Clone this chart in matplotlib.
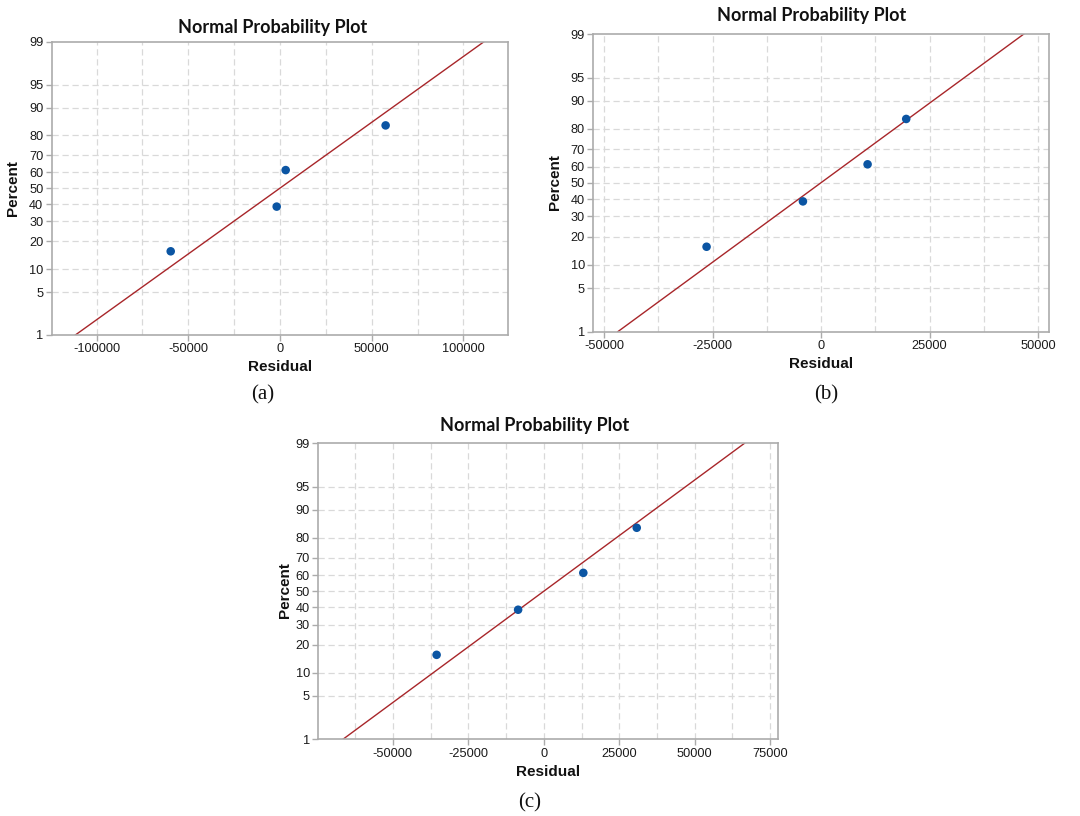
import numpy as np
import matplotlib
matplotlib.use("Agg")
import matplotlib.pyplot as plt
from statistics import NormalDist

# --- data ---
percent = [15.9, 38.6, 61.4, 84.1]
resid_a = [-59600, -1800, 3100, 57600]
resid_b = [-26400, -4200, 10700, 19600]
resid_c = [-35500, -8500, 13100, 30800]

yticks = [1, 5, 10, 20, 30, 40, 50, 60, 70, 80, 90, 95, 99]
xticks_a = [-100000, -50000, 0, 50000, 100000]
xticks_b = [-50000, -25000, 0, 25000, 50000]
xticks_c = [-50000, -25000, 0, 25000, 50000, 75000]

W, H = 1080, 816
nd = NormalDist()


def fwd(p):
    p = np.clip(np.asarray(p, dtype=float), 1e-6, 100 - 1e-6)
    return np.vectorize(lambda v: nd.inv_cdf(v / 100.0))(p) if p.size else p


def inv(z):
    z = np.asarray(z, dtype=float)
    return np.vectorize(lambda v: nd.cdf(v) * 100.0)(z) if z.size else z


def px_axes(l, t, r, b):
    return fig.add_axes([l / W, 1 - b / H, (r - l) / W, (b - t) / H])


def txt(x, y, s, **kw):
    fig.text(x / W, 1 - y / H, s, ha='center', va='center', **kw)


def probplot(ax, resid, xticks, xlim):
    ax.set_yscale('function', functions=(fwd, inv))
    ax.set_ylim(1, 99)
    ax.set_xlim(*xlim)
    ax.set_yticks(yticks)
    ax.set_yticklabels([str(v) for v in yticks])
    ax.set_xticks(xticks)
    ax.set_xticklabels([str(v) for v in xticks])
    step = xticks[1] - xticks[0]
    minors = np.arange(xticks[0] - step / 2, xticks[-1] + step, step)
    minors = [m for m in minors if xlim[0] < m < xlim[1]]
    ax.set_xticks(minors, minor=True)
    ax.tick_params(which='minor', length=0)
    for v in yticks[1:-1]:
        ax.axhline(v, color='#d9d9d9', lw=0.9, ls=(0, (5, 3)), zorder=0)
    for v in list(xticks) + minors:
        if xlim[0] < v < xlim[1]:
            ax.axvline(v, color='#d9d9d9', lw=0.9, ls=(0, (5, 3)), zorder=0)

    # fitted normal line (mean, sample sd)
    mu = np.mean(resid)
    sd = np.std(resid, ddof=1)
    dist = NormalDist(mu, sd)
    ax.plot([dist.inv_cdf(0.01), dist.inv_cdf(0.99)], [1, 99],
            color='#a8262a', lw=1.0, zorder=2)
    ax.scatter(resid, percent, s=38, color='#0b55a3', zorder=3, edgecolors='none')

    for sp in ax.spines.values():
        sp.set_color('#ababab')
        sp.set_linewidth(1.2)
    ax.tick_params(which='major', length=4, width=1, color='#ababab',
                   labelsize=9.2, labelcolor='#1a1a1a', pad=2)
    for lab in ax.get_xticklabels() + ax.get_yticklabels():
        lab.set_family('Liberation Sans')


fig = plt.figure(figsize=(W / 100, H / 100), dpi=100)

ax_a = px_axes(51.7, 41.7, 508.3, 335)
probplot(ax_a, resid_a, xticks_a, (-124500, 124500))
ax_b = px_axes(593.3, 34, 1049, 331.7)
probplot(ax_b, resid_b, xticks_b, (-52500, 52500))
ax_c = px_axes(318.3, 443.3, 777.7, 739.3)
probplot(ax_c, resid_c, xticks_c, (-74700, 77500))

title_kw = dict(family='Lato', fontweight='bold', fontsize=13, color='#111111')
lab_kw = dict(family='Liberation Sans', fontweight='bold', fontsize=11, color='#111111')
cap_kw = dict(family='Liberation Serif', fontsize=15, color='#111111')

txt(273, 28, 'Normal Probability Plot', **title_kw)
txt(280, 367, 'Residual', **lab_kw)
txt(13.3, 188, 'Percent', rotation=90, **lab_kw)
txt(263, 395, '(a)', **cap_kw)

txt(812, 16, 'Normal Probability Plot', **title_kw)
txt(820.7, 364, 'Residual', **lab_kw)
txt(555, 182, 'Percent', rotation=90, **lab_kw)
txt(826, 395, '(b)', **cap_kw)

txt(535, 425, 'Normal Probability Plot', **title_kw)
txt(548, 771.7, 'Residual', **lab_kw)
txt(285, 590, 'Percent', rotation=90, **lab_kw)
txt(530, 803, '(c)', **cap_kw)

fig.savefig('out.png', dpi=100)
